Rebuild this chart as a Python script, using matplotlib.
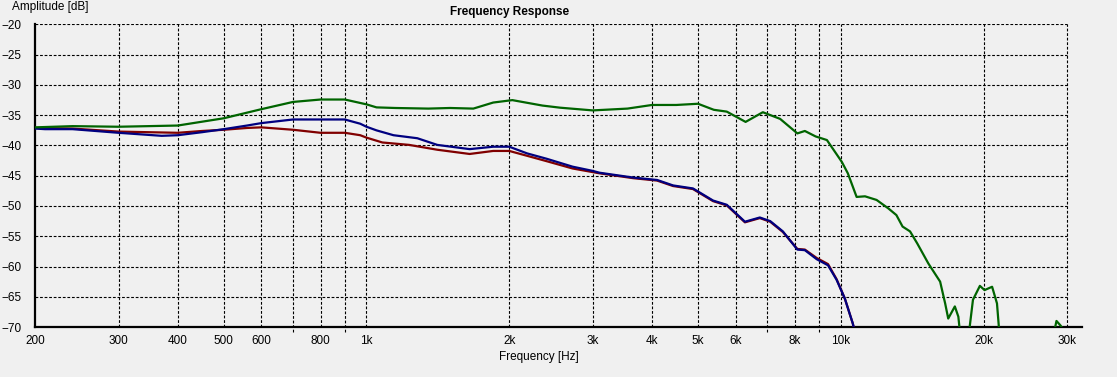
import matplotlib
matplotlib.use("Agg")
import matplotlib.pyplot as plt
import matplotlib.transforms as mtransforms

# Frequency response curves
green_freq = [200, 240, 300, 400, 500, 600, 700, 800, 900, 1000, 1050, 1150,
              1350, 1500, 1680, 1850, 2030, 2350, 2560, 3000, 3550, 4000, 4500,
              5000, 5400, 5750, 6300, 6850, 7450, 8100, 8400, 8850, 9350,
              10050, 10350, 10800, 11250, 11900, 12600, 13100, 13500, 14000,
              14500, 15300, 16200, 16600, 16850, 17400, 17700, 17950, 18500,
              19000, 19650, 20100, 20850, 21350, 21700, 27800, 28500, 29100,
              29700]
green_db = [-37.0, -36.8, -36.9, -36.7, -35.5, -34.0, -32.8, -32.4, -32.4,
            -33.2, -33.7, -33.8, -33.9, -33.8, -33.9, -32.9, -32.5, -33.4,
            -33.75, -34.2, -33.9, -33.3, -33.3, -33.1, -34.1, -34.4, -36.1,
            -34.5, -35.6, -38.0, -37.6, -38.5, -39.1, -42.7, -44.6, -48.5,
            -48.4, -49.0, -50.4, -51.5, -53.4, -54.2, -56.2, -59.5, -62.5,
            -66.1, -68.6, -66.6, -68.3, -73.0, -73.0, -65.5, -63.2, -63.9,
            -63.35, -66.1, -73.0, -73.0, -69.0, -69.8, -71.0]

blue_freq = [200, 210, 240, 300, 370, 400, 450, 500, 560, 600, 700, 800, 900,
             970, 1000, 1050, 1140, 1280, 1410, 1650, 1850, 2000, 2180, 2400,
             2720, 3000, 3100, 3650, 4100, 4430, 4880, 5380, 5750, 6280, 6750,
             7100, 7550, 8100, 8400, 8900, 9400, 9800, 10200, 10600, 10800]
blue_db = [-37.2, -37.3, -37.3, -37.9, -38.4, -38.3, -37.8, -37.3, -36.7,
           -36.3, -35.7, -35.7, -35.7, -36.4, -36.9, -37.5, -38.3, -38.8, -39.9,
           -40.6, -40.2, -40.2, -41.3, -42.2, -43.5, -44.2, -44.5, -45.3, -45.7,
           -46.6, -47.1, -49.1, -49.8, -52.6, -51.9, -52.5, -54.2, -57.2, -57.3,
           -58.8, -59.8, -62.2, -65.3, -69.4, -72.0]

red_freq = [200, 240, 300, 400, 450, 500, 560, 600, 700, 800, 900, 970, 1000,
            1080, 1230, 1410, 1650, 1850, 2000, 2180, 2400, 2720, 3000, 3100,
            3650, 4100, 4430, 4880, 5380, 5750, 6280, 6750, 7100, 7550, 8100,
            8400, 8900, 9400, 9800, 10200, 10600, 10800]
red_db = [-37.1, -37.2, -37.7, -37.9, -37.6, -37.4, -37.1, -37.0, -37.4, -37.9,
          -37.9, -38.3, -38.7, -39.5, -39.9, -40.7, -41.4, -40.9, -40.9, -41.7,
          -42.6, -43.8, -44.4, -44.6, -45.4, -45.8, -46.7, -47.2, -49.2, -49.9,
          -52.7, -52.0, -52.6, -54.3, -57.1, -57.2, -58.6, -59.6, -62.1, -65.3,
          -69.4, -72.0]

x_grid = [300, 400, 500, 600, 700, 800, 900, 1000, 2000, 3000, 4000, 5000,
          6000, 7000, 8000, 9000, 10000, 20000, 30000]
x_unlabeled = [700, 900, 7000, 9000]
x_ticks = [200, 300, 400, 500, 600, 800, 1000, 2000, 3000, 4000, 5000, 6000,
           8000, 10000, 20000, 30000]
x_labels = ["200", "300", "400", "500", "600", "800", "1k", "2k", "3k", "4k",
            "5k", "6k", "8k", "10k", "20k", "30k"]
y_ticks = [-20, -25, -30, -35, -40, -45, -50, -55, -60, -65, -70]

plt.rcParams["font.family"] = ["Liberation Sans", "DejaVu Sans"]
bg = "#f0f0f0"

fig = plt.figure(figsize=(11.17, 3.77), dpi=100, facecolor=bg)
ax = fig.add_axes([35 / 1117, 50 / 377, 1047 / 1117, 302.5 / 377])
ax.set_facecolor(bg)
ax.set_xscale("log")
ax.set_xlim(200, 32260)
ax.set_ylim(-70, -20)

dash = (0, (2.5, 1.6))
# horizontal grid stops at 30k
ax.hlines(y_ticks[:-1], 200, 30000, colors="black", linewidth=0.8,
          linestyles=[dash], zorder=1)
trans = mtransforms.blended_transform_factory(ax.transData, ax.transAxes)
for f in x_grid:
    lo = -0.017 if f in x_unlabeled else 0
    ax.plot([f, f], [lo, 1], transform=trans, color="black", linewidth=0.8,
            linestyle=dash, clip_on=False, zorder=1)

ax.plot(red_freq, red_db, color="#800000", linewidth=1.6, zorder=3)
ax.plot(blue_freq, blue_db, color="#000080", linewidth=1.6, zorder=4)
ax.plot(green_freq, green_db, color="#006400", linewidth=1.6, zorder=5)

ax.minorticks_off()
ax.set_xticks(x_ticks)
ax.set_xticklabels(x_labels)
ax.set_yticks(y_ticks)
ax.tick_params(axis="x", length=0, pad=6, labelsize=8.5)
ax.tick_params(axis="y", length=0, pad=10, labelsize=8.5)

for side in ["top", "right"]:
    ax.spines[side].set_visible(False)
for side in ["left", "bottom"]:
    ax.spines[side].set_linewidth(1.6)

fig.text(510 / 1117, 1 - 12 / 377, "Frequency Response", ha="center",
         va="center", fontsize=8.5, fontweight="bold")
fig.text(539 / 1117, 1 - 357 / 377, "Frequency [Hz]", ha="center",
         va="center", fontsize=8.5)
fig.text(12 / 1117, 1 - 7 / 377, "Amplitude [dB]", ha="left", va="center",
         fontsize=8.5)

fig.savefig("out.png", dpi=100, facecolor=bg)
